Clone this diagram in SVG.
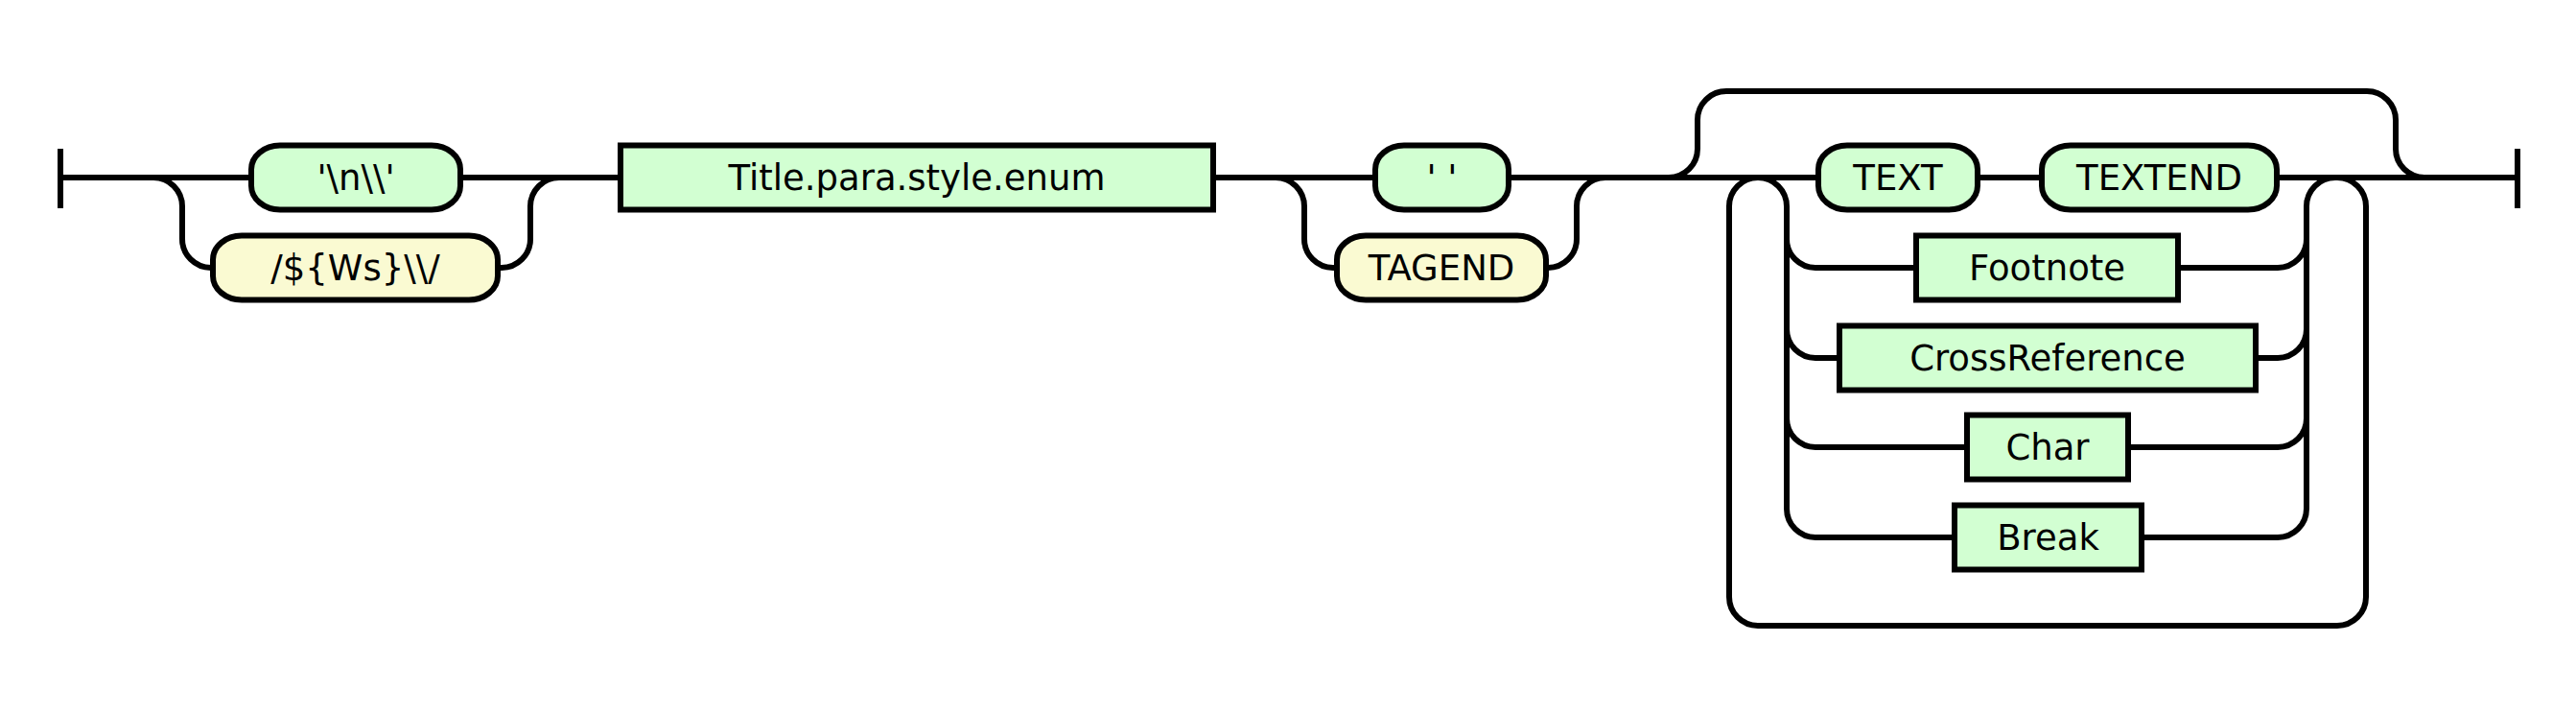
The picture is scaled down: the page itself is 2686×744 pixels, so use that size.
<svg xmlns="http://www.w3.org/2000/svg" width="2686" height="744" viewBox="0 0 2686 744">
<style>
.line{fill:none;stroke:#000;stroke-width:6}
.term{fill:#D2FFD2;stroke:#000;stroke-width:6}
.tok{fill:#FAFAD2;stroke:#000;stroke-width:6}
.nt{fill:#D2FFD2;stroke:#000;stroke-width:6}
text{font-family:"DejaVu Sans","Liberation Sans",sans-serif;font-size:37px;fill:#000;text-anchor:middle}
</style>
<rect width="2686" height="744" fill="#fff"/>
<g id="connectors" class="line">
<path d="M63,155 V217 M2625,155 V217"/>
<path d="M63,185 H262 M480,185 H647 M1265,185 H1434 M1573,185 H1896 M2062,185 H2129 M2374,185 H2625"/>
<path d="M160,185 A30,30 0 0 1 190,215 V249 A30,30 0 0 0 220,279 H222"/>
<path d="M519,279 H523 A30,30 0 0 0 553,249 V215 A30,30 0 0 1 583,185"/>
<path d="M1330,185 A30,30 0 0 1 1360,215 V249 A30,30 0 0 0 1390,279 H1394"/>
<path d="M1612,279 H1614 A30,30 0 0 0 1644,249 V215 A30,30 0 0 1 1674,185"/>
<path d="M1740,185 A30,30 0 0 0 1770,155 V125 A30,30 0 0 1 1800,95 H2468 A30,30 0 0 1 2498,125 V155 A30,30 0 0 0 2528,185"/>
<path d="M1833,185 A30,30 0 0 0 1803,215 V622 A30,30 0 0 0 1833,652 H2437 A30,30 0 0 0 2467,622 V215 A30,30 0 0 0 2437,185"/>
<path d="M1833,185 A30,30 0 0 1 1863,215 V530 A30,30 0 0 0 1893,560 H2038"/>
<path d="M1863,249 A30,30 0 0 0 1893,279 H1998 M1863,343 A30,30 0 0 0 1893,373 H1918 M1863,436 A30,30 0 0 0 1893,466 H2051"/>
<path d="M2233,560 H2375 A30,30 0 0 0 2405,530 V215 A30,30 0 0 1 2435,185"/>
<path d="M2271,279 H2375 A30,30 0 0 0 2405,249 M2352,373 H2375 A30,30 0 0 0 2405,343 M2219,466 H2375 A30,30 0 0 0 2405,436"/>
</g>
<g id="n_newline"><rect class="term" x="262" y="151.5" width="218" height="67" rx="30" ry="25"/><text x="371" y="198">'\n\\'</text></g>
<g id="n_ws"><rect class="tok" x="222" y="245.5" width="297" height="67" rx="30" ry="25"/><text x="370.5" y="292">/${Ws}\\/</text></g>
<g id="n_title"><rect class="nt" x="647" y="151.5" width="618" height="67"/><text x="956" y="198">Title.para.style.enum</text></g>
<g id="n_space"><rect class="term" x="1434" y="151.5" width="139" height="67" rx="30" ry="25"/><text x="1503.5" y="198">' '</text></g>
<g id="n_tagend"><rect class="tok" x="1394" y="245.5" width="218" height="67" rx="30" ry="25"/><text x="1503" y="292">TAGEND</text></g>
<g id="n_text"><rect class="term" x="1896" y="151.5" width="166" height="67" rx="30" ry="25"/><text x="1979" y="198">TEXT</text></g>
<g id="n_textend"><rect class="term" x="2129" y="151.5" width="245" height="67" rx="30" ry="25"/><text x="2251.5" y="198">TEXTEND</text></g>
<g id="n_footnote"><rect class="nt" x="1998" y="245.5" width="273" height="67"/><text x="2134.5" y="292">Footnote</text></g>
<g id="n_crossref"><rect class="nt" x="1918" y="339.5" width="434" height="67"/><text x="2135" y="386">CrossReference</text></g>
<g id="n_char"><rect class="nt" x="2051" y="432.5" width="168" height="67"/><text x="2135" y="479">Char</text></g>
<g id="n_break"><rect class="nt" x="2038" y="526.5" width="195" height="67"/><text x="2135.5" y="573">Break</text></g>
</svg>
